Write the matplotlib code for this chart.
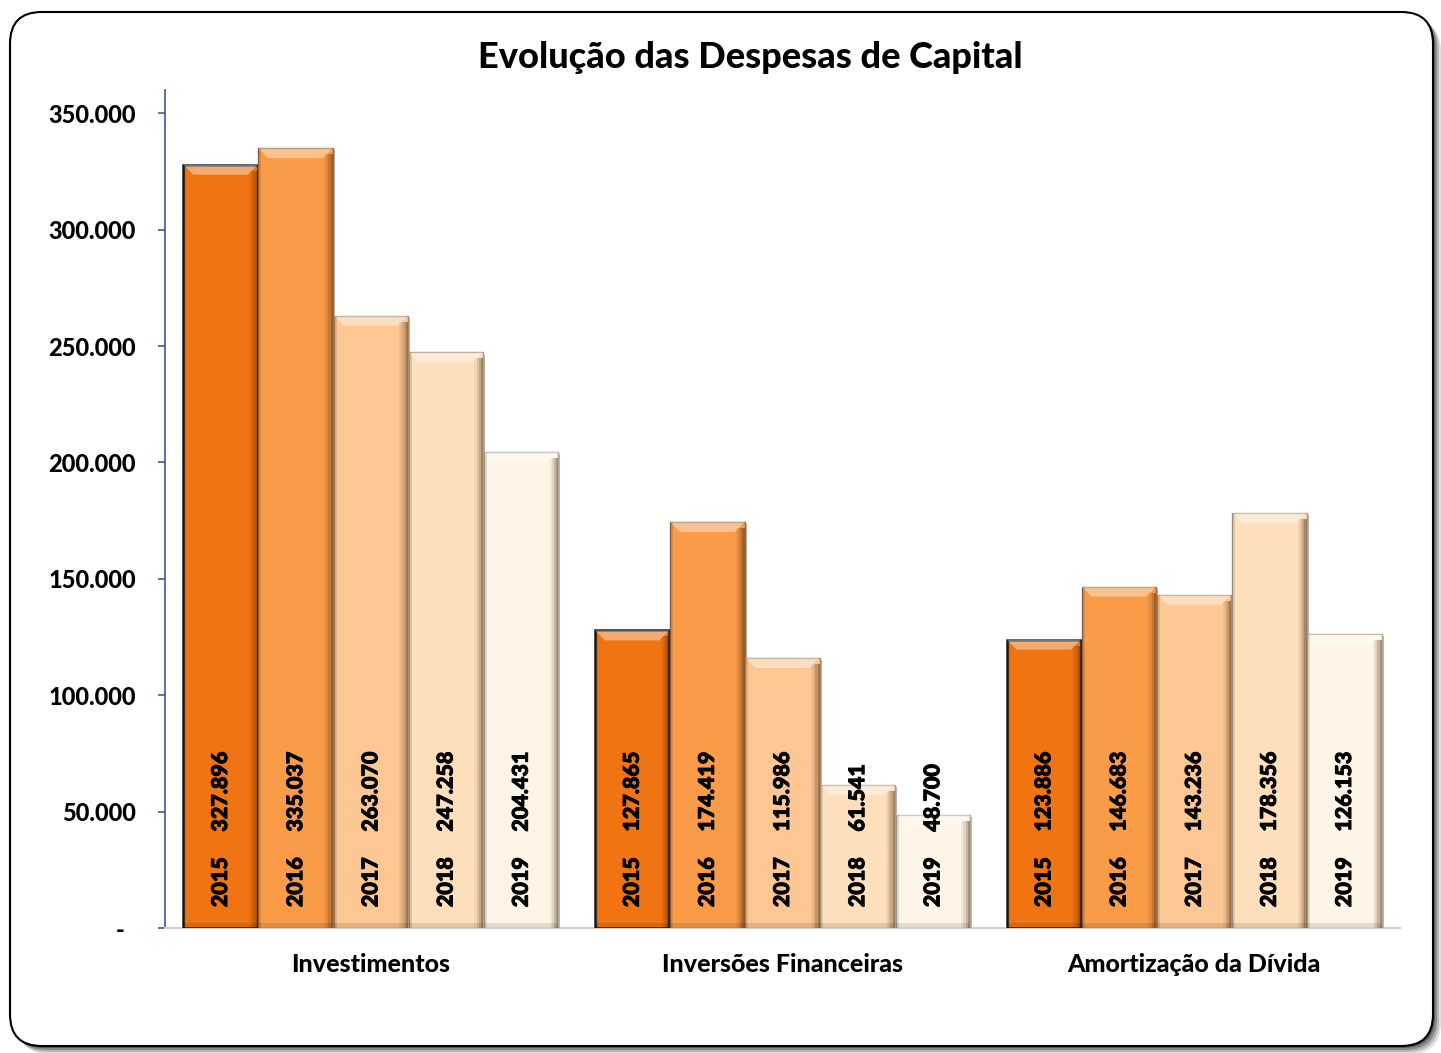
import numpy as np
import matplotlib
matplotlib.use("Agg")
import matplotlib.pyplot as plt
from matplotlib.patches import FancyBboxPatch, Polygon, Rectangle
import matplotlib.patheffects as pe

# data
categories = ["Investimentos", "Inversões Financeiras", "Amortização da Dívida"]
years = ["2015", "2016", "2017", "2018", "2019"]
v2015 = [327896, 127865, 123886]
v2016 = [335037, 174419, 146683]
v2017 = [263070, 115986, 143236]
v2018 = [247258, 61541, 178356]
v2019 = [204431, 48700, 126153]
series = [v2015, v2016, v2017, v2018, v2019]
yticks = [0, 50000, 100000, 150000, 200000, 250000, 300000, 350000]

colors = ["#F07412", "#FA9B48", "#FDC793", "#FDDFBC", "#FEF5E6"]
edges = ["#1a1a1a", "#9a6a40", "#a88a6c", "#b09a84", "#b0a89c"]

plt.rcParams['font.family'] = ['Lato', 'DejaVu Sans']

def fmt(v):
  return f"{v:,}".replace(",", ".")

W, H = 1441, 1053
fig = plt.figure(figsize=(W/100, H/100), dpi=100)

# rounded frame with soft shadow
for k, a in enumerate([0.12, 0.18, 0.25, 0.35]):
  off = (4-k)*2
  sh = FancyBboxPatch(((10+off)/W, (7-off)/H), (W-8-10)/W, (H-12-7)/H,
                      boxstyle="round,pad=0,rounding_size=0.022",
                      transform=fig.transFigure, facecolor="black", alpha=a,
                      edgecolor="none", mutation_aspect=W/H, zorder=0)
  fig.patches.append(sh)
frame = FancyBboxPatch((10/W, 7/H), (W-8-10)/W, (H-12-7)/H,
                       boxstyle="round,pad=0,rounding_size=0.022",
                       transform=fig.transFigure, facecolor="white",
                       edgecolor="black", linewidth=1.5, mutation_aspect=W/H, zorder=1)
fig.patches.append(frame)

ax = fig.add_axes([165/W, (H-928)/H, (1400-165)/W, (928-90)/H])
ax.set_facecolor("none")
ax.set_zorder(2)

n = len(series)
width = 0.913/n
x = np.arange(len(categories))
ymax = 360000
ax.set_xlim(-0.5, len(categories)-0.5)
ax.set_ylim(0, ymax)

# pixel -> data scales for bevel drawing
px_y = ymax/838.0
px_x = 3.0/1235.0

for i, vals in enumerate(series):
  xs = x - 0.913/2 + width*(i+0.5)
  bars = ax.bar(xs, vals, width=width*0.99, color=colors[i], edgecolor=edges[i],
                linewidth=1.8 if i == 0 else 1.0, zorder=3)
  for b in bars:
    b.set_path_effects([pe.SimplePatchShadow(offset=(1.5, -1.5), shadow_rgbFace="#777777", alpha=0.5),
                        pe.Normal()])
    bx, bw, bh = b.get_x(), b.get_width(), b.get_height()
    # top bevel highlight
    t = 10*px_y
    c = 10*px_x
    top = Polygon([(bx, bh), (bx+bw, bh), (bx+bw-c, bh-t), (bx+c, bh-t)],
                  closed=True, facecolor="white", alpha=0.4, edgecolor="none", zorder=4)
    ax.add_patch(top)
    # right dark shading
    for k, a in enumerate([0.08, 0.14, 0.22, 0.32]):
      sw = (4-k)*2.2*px_x
      ax.add_patch(Rectangle((bx+bw-sw, 0), sw, bh-t*0.6, facecolor="#3a1a00",
                             alpha=a*0.7, edgecolor="none", zorder=4))
    ax.add_patch(Rectangle((bx, 0), 3*px_x, bh, facecolor="black",
                           alpha=0.1, edgecolor="none", zorder=4))
    ax.add_patch(Rectangle((bx, 0), bw, 5*px_y, facecolor="black",
                           alpha=0.1, edgecolor="none", zorder=4))
    ax.annotate(f"{years[i]}     {fmt(int(bh))}", xy=(bx+bw/2, 0), xytext=(0, 15),
                textcoords="offset points", rotation=90, ha="center", va="bottom",
                fontsize=15.5, fontweight="black", color="black", zorder=6,
                path_effects=[pe.withStroke(linewidth=0.7, foreground="black")])

ax.set_yticks(yticks)
ax.set_yticklabels(["-  "] + [fmt(v) for v in yticks[1:]])
ax.set_xticks(x)
ax.set_xticklabels(categories)
ax.tick_params(axis="y", length=5, width=1.2, color="#3A5A95", pad=16, labelsize=17)
ax.tick_params(axis="x", length=0, pad=18, labelsize=18)
for lab in ax.get_yticklabels() + ax.get_xticklabels():
  lab.set_fontweight("black")

for s in ["top", "right"]:
  ax.spines[s].set_visible(False)
ax.spines["left"].set_color("#3A5A95")
ax.spines["left"].set_linewidth(1.2)
ax.spines["bottom"].set_color("#d0d0d0")
ax.spines["bottom"].set_linewidth(1.5)

fig.text(750/W, 1-58/H, "Evolução das Despesas de Capital", ha="center", va="center",
         fontsize=26, fontweight="black", zorder=3)

fig.savefig("out.png", dpi=100)
